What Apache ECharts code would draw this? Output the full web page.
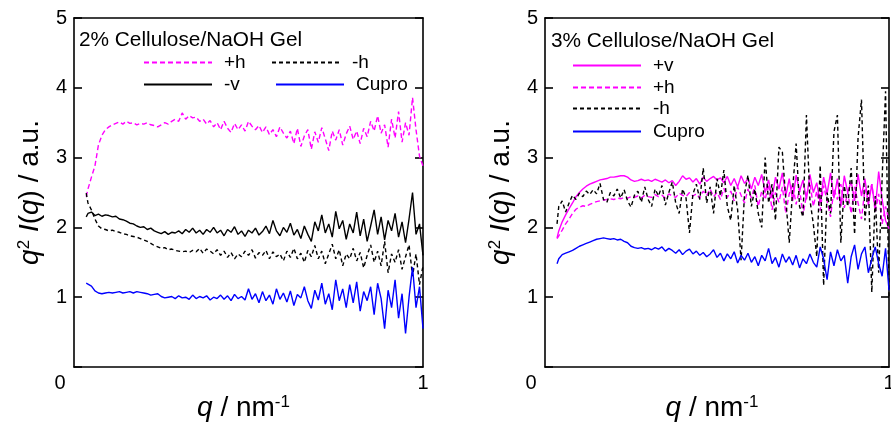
<!DOCTYPE html>
<html><head><meta charset="utf-8">
<script src="https://cdn.jsdelivr.net/npm/echarts@6/dist/echarts.min.js"></script>
<style>html,body{margin:0;padding:0;background:#fff}#c{width:891px;height:423px}</style>
</head><body><div id="c"></div>
<script>
// q grid (nm^-1), shared by both panels
const q = [0.035,0.04,0.05,0.06,0.07,0.08,0.09,0.10,0.11,0.12,0.13,0.14,0.15,0.16,0.17,0.18,0.19,0.20,0.21,0.22,0.23,0.24,0.25,0.26,0.27,0.28,0.29,0.30,0.31,0.32,0.33,0.34,0.35,0.36,0.37,0.38,0.39,0.40,0.41,0.42,0.43,0.44,0.45,0.46,0.47,0.48,0.49,0.50,0.51,0.52,0.53,0.54,0.55,0.56,0.57,0.58,0.59,0.60,0.61,0.62,0.63,0.64,0.65,0.66,0.67,0.68,0.69,0.70,0.71,0.72,0.73,0.74,0.75,0.76,0.77,0.78,0.79,0.80,0.81,0.82,0.83,0.84,0.85,0.86,0.87,0.88,0.89,0.90,0.91,0.92,0.93,0.94,0.95,0.96,0.97,0.98,0.99,1.00];

// Left panel: 2% Cellulose/NaOH Gel
const left_ph = [2.44,2.55,2.72,2.88,3.18,3.32,3.40,3.44,3.47,3.49,3.51,3.48,3.52,3.49,3.50,3.47,3.49,3.48,3.50,3.47,3.46,3.44,3.47,3.50,3.48,3.52,3.55,3.52,3.64,3.55,3.60,3.57,3.58,3.52,3.55,3.48,3.53,3.44,3.50,3.40,3.52,3.42,3.36,3.49,3.40,3.47,3.38,3.52,3.45,3.40,3.46,3.36,3.44,3.33,3.40,3.30,3.44,3.35,3.28,3.38,3.20,3.42,3.16,3.31,3.40,3.12,3.37,3.22,3.43,3.27,3.10,3.38,3.25,3.40,3.18,3.34,3.45,3.26,3.38,3.20,3.42,3.30,3.52,3.38,3.60,3.35,3.47,3.15,3.55,3.28,3.66,3.22,3.50,3.32,3.86,3.40,3.02,2.88];
const left_mh = [2.49,2.35,2.25,2.12,2.02,1.98,1.97,1.95,1.96,1.94,1.93,1.91,1.90,1.88,1.87,1.86,1.84,1.82,1.80,1.77,1.74,1.72,1.70,1.71,1.68,1.69,1.67,1.66,1.65,1.66,1.64,1.67,1.65,1.70,1.63,1.69,1.66,1.62,1.68,1.60,1.66,1.57,1.64,1.55,1.62,1.58,1.66,1.60,1.68,1.56,1.64,1.60,1.67,1.55,1.65,1.58,1.62,1.52,1.66,1.57,1.70,1.55,1.63,1.50,1.67,1.58,1.74,1.55,1.66,1.48,1.62,1.76,1.55,1.68,1.45,1.62,1.55,1.70,1.52,1.64,1.42,1.60,1.75,1.50,1.66,1.45,1.80,1.35,1.62,1.50,1.68,1.40,1.58,1.75,1.30,1.62,1.18,1.45];
const left_mv = [2.15,2.20,2.22,2.17,2.19,2.16,2.18,2.17,2.15,2.16,2.12,2.11,2.09,2.06,2.05,2.02,2.00,2.01,1.97,1.99,1.95,1.93,1.91,1.94,1.90,1.93,1.92,1.95,1.91,1.97,1.93,1.99,1.92,1.96,1.90,1.97,1.93,2.00,1.92,1.96,1.88,1.97,1.93,2.01,1.90,1.95,1.87,1.96,1.92,1.99,1.89,1.94,2.02,1.91,2.10,1.95,1.88,2.00,1.93,2.06,1.89,1.97,1.84,2.02,1.90,1.80,2.08,1.95,2.18,1.92,2.05,1.86,2.23,1.98,2.10,1.83,2.05,1.92,2.22,1.88,2.12,1.80,2.02,2.25,1.90,2.15,1.82,2.10,1.95,2.20,1.86,2.08,1.78,2.12,2.50,1.90,2.05,1.60];
const left_cupro = [1.20,1.22,1.16,1.09,1.06,1.05,1.06,1.07,1.06,1.07,1.08,1.06,1.07,1.08,1.06,1.08,1.07,1.06,1.05,1.03,1.04,1.05,1.01,0.99,1.00,1.01,0.98,1.02,0.99,1.00,0.97,1.03,0.98,1.01,0.99,1.02,0.96,1.00,0.98,1.03,0.97,1.02,0.95,1.04,0.98,1.01,0.96,1.12,0.97,1.05,0.92,1.08,0.95,1.03,0.90,1.12,0.97,1.06,0.93,1.09,0.88,1.04,0.99,1.15,0.95,0.84,1.10,0.96,1.20,0.90,1.05,0.82,1.25,0.95,1.12,0.85,1.18,0.92,1.22,0.80,1.08,0.95,1.15,0.75,1.20,0.98,0.55,1.10,0.85,1.25,0.70,1.05,0.48,1.00,1.43,0.85,1.15,0.55];

// Right panel: 3% Cellulose/NaOH Gel
const right_pv = [1.85,1.95,2.08,2.18,2.27,2.35,2.44,2.50,2.55,2.59,2.62,2.64,2.66,2.68,2.69,2.70,2.72,2.72,2.73,2.74,2.74,2.72,2.68,2.66,2.67,2.69,2.67,2.68,2.66,2.69,2.67,2.65,2.68,2.64,2.67,2.60,2.66,2.74,2.69,2.71,2.65,2.70,2.62,2.72,2.66,2.70,2.73,2.68,2.71,2.64,2.73,2.60,2.70,2.58,2.74,2.63,2.70,2.55,2.72,2.60,2.76,2.50,2.68,2.42,2.72,2.55,2.78,2.45,2.70,2.38,2.75,2.52,2.68,2.40,2.76,2.50,2.64,2.35,2.72,2.48,2.78,2.42,2.70,2.30,2.74,2.50,2.66,2.38,2.76,2.45,2.70,2.32,2.62,2.26,2.80,2.40,2.10,1.98];
const right_ph = [1.84,1.88,1.96,2.05,2.12,2.20,2.26,2.29,2.31,2.30,2.33,2.35,2.37,2.38,2.39,2.40,2.41,2.40,2.42,2.41,2.43,2.42,2.44,2.43,2.45,2.42,2.46,2.44,2.43,2.47,2.44,2.46,2.42,2.48,2.45,2.43,2.49,2.46,2.44,2.50,2.45,2.48,2.42,2.52,2.46,2.55,2.44,2.50,2.40,2.56,2.43,2.52,2.38,2.58,2.46,2.35,2.55,2.42,2.60,2.30,2.52,2.40,2.62,2.25,2.50,2.36,2.58,2.20,2.48,2.62,2.33,2.55,2.18,2.46,2.65,2.30,2.52,2.24,2.60,2.38,2.15,2.55,2.40,2.62,2.28,2.50,2.20,2.58,2.35,2.12,2.55,2.40,2.62,2.22,2.48,2.05,2.30,2.10];
const right_mh = [2.05,2.30,2.38,2.22,2.35,2.46,2.40,2.49,2.44,2.52,2.47,2.54,2.48,2.63,2.40,2.36,2.50,2.45,2.55,2.42,2.54,2.38,2.29,2.46,2.52,2.36,2.58,2.40,2.30,2.55,2.45,2.60,2.32,2.50,2.65,2.35,2.20,2.55,2.42,1.92,2.48,2.62,2.40,2.85,2.35,2.58,2.20,2.70,2.45,2.82,2.30,2.10,2.60,2.25,1.53,2.48,2.75,2.30,2.55,2.20,2.00,3.00,2.35,2.62,2.10,3.15,3.08,2.40,1.78,2.55,3.20,2.30,2.15,3.61,2.40,2.05,1.58,2.89,1.17,2.50,2.20,3.37,3.61,1.78,2.60,2.30,2.85,1.90,3.28,3.83,2.10,2.60,1.07,2.45,1.35,2.70,3.95,1.00];
const right_cupro = [1.48,1.55,1.61,1.63,1.65,1.67,1.70,1.73,1.75,1.77,1.79,1.81,1.83,1.84,1.85,1.84,1.83,1.84,1.82,1.83,1.80,1.78,1.73,1.71,1.70,1.71,1.69,1.70,1.68,1.71,1.69,1.72,1.66,1.70,1.67,1.63,1.68,1.61,1.66,1.69,1.62,1.66,1.60,1.64,1.58,1.62,1.68,1.57,1.63,1.52,1.62,1.55,1.65,1.49,1.60,1.53,1.63,1.50,1.58,1.45,1.60,1.52,1.70,1.48,1.57,1.43,1.62,1.50,1.58,1.46,1.60,1.42,1.55,1.48,1.62,1.50,1.43,1.72,1.55,1.25,1.65,1.45,1.68,1.52,1.60,1.20,1.58,1.75,1.40,1.62,1.72,1.35,1.55,1.72,1.48,1.30,1.70,1.10];

const xTickLabels = {0:'0', 1:'1'};
const titles = ['2% Cellulose/NaOH Gel','3% Cellulose/NaOH Gel'];

const FONT = 'Liberation Sans, Arial, sans-serif';
const MAG = '#ff00ff', BLK = '#000000', BLU = '#0000ff';

function pairs(xs, ys){ return xs.map((x,i)=>[x, ys[i]]); }

const grids = [
  {left:74, top:18, width:349, height:349, containLabel:false, outerBoundsMode:'none'},
  {left:545, top:18, width:344, height:349, containLabel:false, outerBoundsMode:'none'}
];
const axisLine = {show:true, onZero:false, lineStyle:{color:'#000', width:1.6}};
const tick = {show:true, inside:true, length:8, lineStyle:{width:1.6, color:'#000'}};
const xAxes = [], yAxes = [];
grids.forEach((g,gi)=>{
  xAxes.push({
    type:'value', gridIndex:gi, min:0, max:1, interval:1, position:'bottom',
    axisLine, axisTick:{show:false}, splitLine:{show:false},
    axisLabel:{show:true, showMinLabel:true, showMaxLabel:true, hideOverlap:false, margin:6, color:'#000', fontSize:20, fontFamily:FONT,
      formatter:(v)=> v===0 ? '{z|'+xTickLabels[0]+'}' : (v===1 ? xTickLabels[1] : ''),
      rich:{z:{fontSize:20, fontFamily:FONT, color:'#000', padding:[0,28,0,0]}}},
    name:'{i|q} / nm{s|-1}', nameLocation:'middle', nameGap:27, nameMoveOverlap:false,
    nameTextStyle:{fontSize:28, fontFamily:FONT, color:'#000', padding:[0,10,0,0],
      rich:{i:{fontStyle:'italic', fontSize:28, fontFamily:FONT, color:'#000'},
            s:{fontSize:17, fontFamily:FONT, color:'#000', verticalAlign:'top'}}}
  });
  xAxes.push({
    type:'value', gridIndex:gi, min:0, max:1, interval:1, position:'top',
    axisLine, axisTick:{show:false}, axisLabel:{show:false}, splitLine:{show:false}
  });
  yAxes.push({
    type:'value', gridIndex:gi, min:0, max:5, interval:1, position:'left',
    axisLine, axisTick:tick, splitLine:{show:false},
    axisLabel:{margin:7, color:'#000', fontSize:20, fontFamily:FONT,
      formatter:(v)=> v===0 ? '' : String(v)},
    name:'{i|q}{s|2} {i|I}({i|q}) / a.u.', nameLocation:'middle', nameRotate:90, nameGap:30, nameMoveOverlap:false,
    nameTextStyle:{fontSize:28, fontFamily:FONT, color:'#000',
      rich:{i:{fontStyle:'italic', fontSize:28, fontFamily:FONT, color:'#000'},
            s:{fontSize:17, fontFamily:FONT, color:'#000', verticalAlign:'top'}}}
  });
  yAxes.push({
    type:'value', gridIndex:gi, min:0, max:5, interval:1, position:'right',
    axisLine, axisTick:tick, axisLabel:{show:false}, splitLine:{show:false}
  });
});

function ser(name, data, xi, yi, color, dash){
  return {name, type:'line', xAxisIndex:xi, yAxisIndex:yi, data, symbol:'none', showSymbol:false,
    animation:false, lineStyle:{color, width:1.4, type: dash || 'solid'}, itemStyle:{color}};
}
const series = [
  ser('+h', pairs(q,left_ph), 0, 0, MAG, [5,3]),
  ser('-h', pairs(q,left_mh), 0, 0, BLK, [4,3]),
  ser('-v', pairs(q,left_mv), 0, 0, BLK),
  ser('Cupro', pairs(q,left_cupro), 0, 0, BLU),
  ser('+h', pairs(q,right_ph), 2, 2, MAG, [5,3]),
  ser('+v', pairs(q,right_pv), 2, 2, MAG),
  ser('-h', pairs(q,right_mh), 2, 2, BLK, [4,3]),
  ser('Cupro', pairs(q,right_cupro), 2, 2, BLU)
];

function leg(name, left, top){
  return {data:[name], left, top, itemWidth:68, itemHeight:14, padding:0,
    itemStyle:{opacity:0},
    textStyle:{fontSize:19, fontFamily:FONT, color:'#000', padding:[0,0,0,7]}, selectedMode:false};
}
const legends = [
  leg('+h', 143, 53), leg('-h', 271, 53), leg('-v', 143, 75), leg('Cupro', 275, 75),
  leg('+v', 572, 56), leg('+h', 572, 78), leg('-h', 572, 99), leg('Cupro', 572, 122)
];

const chart = echarts.init(document.getElementById('c'), null, {renderer:'canvas'});
chart.setOption({
  backgroundColor:'#fff',
  animation:false,
  title:[
    {text:titles[0], left:79, top:30, padding:0, textStyle:{fontSize:20.8, fontWeight:'normal', fontFamily:FONT, color:'#000'}},
    {text:titles[1], left:551, top:31, padding:0, textStyle:{fontSize:20.8, fontWeight:'normal', fontFamily:FONT, color:'#000'}}
  ],
  grid:grids, xAxis:xAxes, yAxis:yAxes, legend:legends, series
});
</script></body></html>
